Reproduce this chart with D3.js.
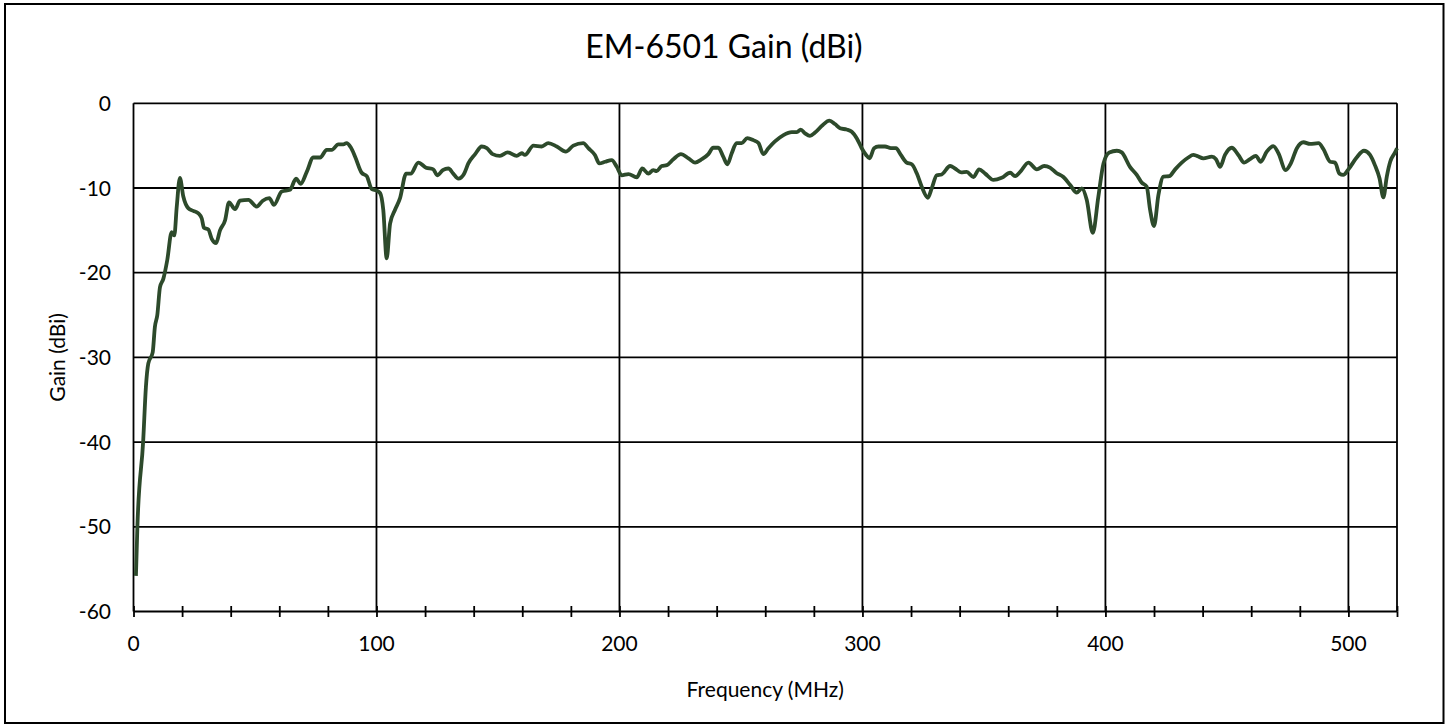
<!doctype html>
<html lang="en">
<head>
  <meta charset="utf-8">
  <title>EM-6501 Gain (dBi)</title>
  <style>
    body { margin: 0; background: #fff; }
    svg { display: block; font-family: Lato, "Liberation Sans", sans-serif; }
  </style>
</head>
<body>
<svg id="chart" width="1447" height="727" viewBox="0 0 1447 727"></svg>

<script src="https://d3js.org/d3.v7.min.js"></script>
<script>
// frequency (MHz) and gain (dBi)
const freq = [
  1, 1.6, 4, 5.1, 6.1, 7.9, 8.8, 9.8, 10.9, 12.3, 13.9, 15.7, 16.8, 17.8, 19.1, 20.5,
  22.6, 24.6, 26.7, 28.1, 29, 30.8, 32.2, 34, 35.6, 37.7, 39.3, 41.8, 43.8, 47.3, 50.7,
  53.2, 55.9, 57.8, 61, 64.4, 66.9, 68.8, 71.3, 74, 76.8, 79.5, 81.6, 84.3, 86.4, 87.7,
  89.4, 91.2, 93.9, 96, 98, 100.1, 101.5, 102.8, 104.2, 105.6, 107.6, 109.7, 112.2,
  114.1, 117.2, 120.4, 123.4, 125, 127.3, 129.6, 131.6, 133.7, 136, 137.8, 140.6,
  143.3, 145.4, 147.8, 150.8, 154, 157.7, 159.8, 161.1, 164.6, 168, 170.7, 174.2,
  177.9, 181, 185.1, 187.2, 189.9, 191.7, 194.1, 196.8, 198.9, 200.9, 203.7, 207.1,
  209.4, 211.9, 213.9, 215.3, 217.4, 219.5, 222.2, 225.3, 228.4, 231.1, 233.9, 236.6,
  238.6, 240.7, 242.7, 244.4, 246.2, 248.2, 250.3, 252.6, 255.1, 257.2, 259.2, 261.3,
  264, 267.5, 270.9, 273, 274.6, 276.4, 278.4, 280.5, 283.7, 286.4, 288.7, 290.8,
  293.5, 295.6, 297.7, 299.7, 301.5, 302.9, 304.8, 306.6, 309.3, 311.7, 313.8, 315.8,
  318.2, 320.3, 322.4, 324.4, 326.9, 328.5, 330.6, 332.6, 336.1, 338.1, 340.6, 342.9,
  345.7, 348, 350.5, 353.9, 357.3, 360.8, 362.8, 364.9, 368.3, 371.8, 374.8, 377.2,
  379.7, 382.7, 385.5, 388.2, 390.3, 392.3, 394.8, 397.1, 399.2, 401.6, 404.7, 406.7,
  410.1, 412.9, 414.9, 417, 418.4, 420, 421.8, 423.9, 426.3, 428.7, 431.4, 434.1,
  436.2, 437.6, 440.3, 443.8, 445.5, 447.2, 449.2, 452, 454.7, 457.1, 459.5, 461.9,
  463.9, 466.4, 469.1, 471.2, 474.2, 476.3, 478.8, 481.5, 484.2, 487.7, 489.7, 492.5,
  494.5, 496.3, 497.9, 500, 503.4, 506.4, 508.9, 510.9, 512.8, 514.4, 515.8, 517.2,
  519.2, 520
];
const gain = [
  -55.8, -50, -39.8, -33.5, -30.7, -29.4, -26.4, -25, -21.7, -20.7, -18.5, -15.2, -15.6, -12.2, -8.8, -11,
  -12.4, -12.7, -13, -13.6, -14.7, -14.9, -16, -16.5, -15, -13.8, -11.7, -12.5, -11.5, -11.4, -12.2,
  -11.5, -11.2, -12, -10.4, -10.2, -8.9, -9.5, -8.1, -6.4, -6.4, -5.5, -5.5, -4.85, -4.85, -4.7,
  -5.2, -6.3, -8.2, -8.6, -10.1, -10.3, -10.6, -12.6, -18.3, -14.2, -12.6, -11.2, -8.3,
  -8.3, -7, -7.6, -7.8, -8.5, -7.9, -7.7, -8.3, -8.9, -8.35, -7.1, -6,
  -5.1, -5.3, -6, -6.2, -5.8, -6.2, -5.9, -6.1, -5, -5.1, -4.7, -5.1,
  -5.7, -5, -4.7, -5.3, -6.1, -7.1, -6.9, -6.7, -7.5, -8.5, -8.35, -8.75,
  -7.7, -8.3, -7.9, -8, -7.4, -7.3, -6.6, -6, -6.5, -7, -6.6, -6,
  -5.25, -5.25, -6.3, -7.2, -5.9, -4.7, -4.7, -4.1, -4.35, -4.7, -6, -5.3,
  -4.5, -3.75, -3.4, -3.4, -3.1, -3.55, -3.85, -3.45, -2.55, -2.05, -2.45, -2.95,
  -3.1, -3.35, -4.15, -5.3, -6.1, -6.5, -5.3, -5.1, -5.1, -5.3, -5.3, -6.1,
  -7, -7.2, -8.3, -9.85, -11.15, -10.05, -8.5, -8.4, -7.4, -7.7, -8.15, -8.1,
  -8.7, -7.8, -8.3, -9.05, -8.8, -8.2, -8.6, -8.1, -7, -7.8, -7.4, -7.6,
  -8.2, -8.7, -9.65, -10.55, -10.05, -11.4, -15.3, -11, -7.1, -5.8, -5.6, -5.8,
  -7.5, -8.45, -9.35, -9.85, -12.6, -14.5, -10.85, -8.65, -8.6, -7.8, -7, -6.4,
  -6.1, -6.2, -6.5, -6.3, -6.6, -7.5, -6.1, -5.25, -6.1, -7, -6.6, -6.2,
  -6.9, -5.7, -5.05, -5.9, -7.9, -7.1, -5.3, -4.6, -4.8, -4.7, -5.4, -6.9,
  -7, -8.3, -8.45, -7.8, -6.4, -5.6, -6.1, -7.3, -8.85, -11.1, -8.65, -6.9,
  -5.8, -5.3
];

const xTicks = [0, 100, 200, 300, 400, 500];
const xMinor = d3.range(0, 521, 20);
const yTicks = [0, -10, -20, -30, -40, -50, -60];

const chart = d3.select('#chart');

// outer chart border
chart.append('rect')
  .attr('x', 5).attr('y', 4)
  .attr('width', 1438.5).attr('height', 719)
  .attr('fill', 'none')
  .attr('stroke', '#000')
  .attr('stroke-width', 2);

const x = d3.scaleLinear().domain([0, 520]).range([133.5, 1397]);
const y = d3.scaleLinear().domain([-60, 0]).range([611.5, 103.3]);

// horizontal grid
chart.append('g').selectAll('line')
  .data(yTicks)
  .join('line')
  .attr('x1', x(0)).attr('x2', x(520))
  .attr('y1', d => y(d)).attr('y2', d => y(d))
  .attr('stroke', '#000')
  .attr('stroke-width', 1.8);

// vertical grid + frame sides
chart.append('g').selectAll('line')
  .data(xTicks.concat([520]))
  .join('line')
  .attr('x1', d => x(d)).attr('x2', d => x(d))
  .attr('y1', y(0)).attr('y2', y(-60))
  .attr('stroke', '#000')
  .attr('stroke-width', 1.8);

// minor ticks crossing the x axis
[d3.axisBottom(x), d3.axisTop(x)].forEach(ax => {
  const g = chart.append('g')
    .attr('transform', `translate(0 ${y(-60)})`)
    .call(ax.tickValues(xMinor).tickSize(5.5).tickFormat(''));
  g.select('.domain').remove();
  g.selectAll('line').attr('stroke', '#000').attr('stroke-width', 1.8);
});

// x tick labels
chart.append('g').selectAll('text')
  .data(xTicks)
  .join('text')
  .attr('x', d => x(d))
  .attr('y', 650.5)
  .attr('text-anchor', 'middle')
  .attr('font-size', 21)
  .attr('fill', '#000')
  .text(d => d);

// y tick labels
chart.append('g').selectAll('text')
  .data(yTicks)
  .join('text')
  .attr('x', 111)
  .attr('y', d => y(d))
  .attr('dy', '0.36em')
  .attr('text-anchor', 'end')
  .attr('font-size', 21)
  .attr('fill', '#000')
  .text(d => d);

const line = d3.line()
  .x((d, i) => x(freq[i]))
  .y(d => y(d))
  .curve(d3.curveMonotoneX);

chart.append('path')
  .datum(gain)
  .attr('fill', 'none')
  .attr('stroke', '#2d4a2b')
  .attr('stroke-width', 3.8)
  .attr('stroke-linejoin', 'round')
  .attr('d', line);

// titles
chart.append('text')
  .attr('x', 724).attr('y', 58)
  .attr('text-anchor', 'middle')
  .attr('font-size', 32)
  .attr('fill', '#000')
  .text('EM-6501 Gain (dBi)');

chart.append('text')
  .attr('x', (x(0) + x(520)) / 2).attr('y', 697)
  .attr('text-anchor', 'middle')
  .attr('font-size', 21)
  .attr('fill', '#000')
  .text('Frequency (MHz)');

chart.append('text')
  .attr('transform', `translate(65 ${(y(0) + y(-60)) / 2}) rotate(-90)`)
  .attr('text-anchor', 'middle')
  .attr('font-size', 21)
  .attr('fill', '#000')
  .text('Gain (dBi)');
</script>
</body>
</html>
